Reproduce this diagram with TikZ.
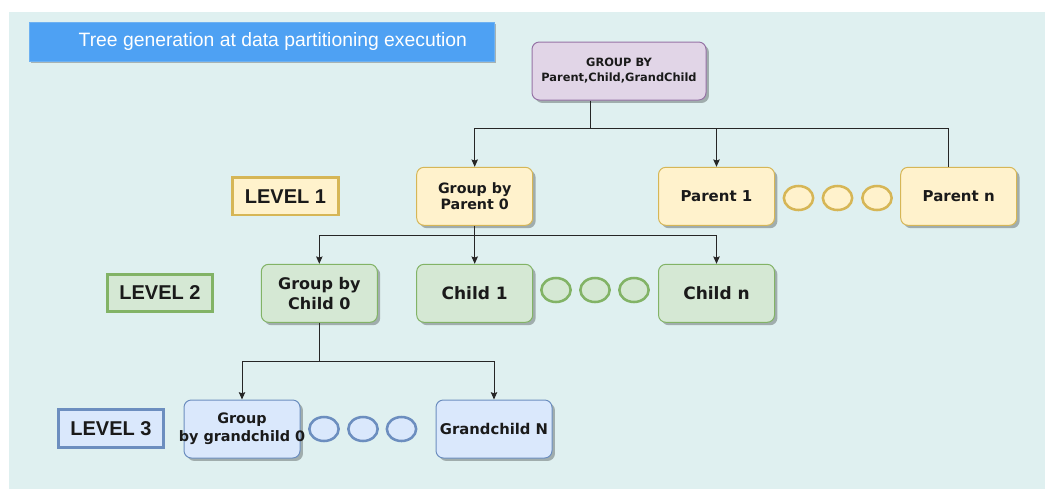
\documentclass[tikz,border=0pt]{standalone}
\usepackage{fontspec}
\setmainfont{DejaVu Sans}
\newfontfamily\arialf{Liberation Sans}
\usetikzlibrary{shadows,arrows.meta,shapes.geometric}
\definecolor{panel}{HTML}{DFF0F0}
\definecolor{titleblue}{HTML}{4EA1F3}
\definecolor{titleedge}{HTML}{6DB1F2}
\definecolor{yfill}{HTML}{FFF2CC}
\definecolor{ydraw}{HTML}{D6B656}
\definecolor{gfill}{HTML}{D5E8D4}
\definecolor{gdraw}{HTML}{82B366}
\definecolor{bfill}{HTML}{DAE8FC}
\definecolor{bdraw}{HTML}{6C8EBF}
\definecolor{pfill}{HTML}{E1D5E7}
\definecolor{pdraw}{HTML}{9673A6}
\definecolor{txt}{HTML}{1A1A1A}
\tikzset{
  shad/.style={drop shadow={shadow xshift=2.2pt,shadow yshift=-2.2pt,opacity=0.28,fill=black}},
  box/.style={rectangle,rounded corners=5.5pt,line width=0.75pt,minimum width=87pt,minimum height=43.5pt,inner sep=0pt,align=center,text=txt,shad},
  ybox/.style={box,fill=yfill,draw=ydraw},
  gbox/.style={box,fill=gfill,draw=gdraw},
  bbox/.style={box,fill=bfill,draw=bdraw},
  lvl/.style={rectangle,line width=2.2pt,minimum width=79pt,minimum height=28pt,inner sep=0pt,text=txt,font=\arialf\fontsize{15}{17}\bfseries},
  dot/.style={ellipse,line width=1.9pt,minimum width=22pt,minimum height=18pt,inner sep=0pt},
  ydot/.style={dot,fill=yfill,draw=ydraw},
  gdot/.style={dot,fill=gfill,draw=gdraw},
  bdot/.style={dot,fill=bfill,draw=bdraw},
  conn/.style={draw=black!85,line width=0.75pt},
  arr/.style={conn,-{Stealth[length=5.5pt,width=4.8pt,inset=0.8pt]}}
}
\begin{document}
\begin{tikzpicture}[x=0.75pt,y=-0.75pt]
\useasboundingbox (0,0) rectangle (1045,489);
\fill[white] (0,0) rectangle (1045,489);
\fill[panel] (9,12) rectangle (1045,489);
% title
\node[rectangle,fill=titleblue,draw=titleedge,line width=0.5pt,minimum width=348.75pt,minimum height=29.25pt,inner sep=0pt,
  text=white,font=\arialf\fontsize{14.5}{16}\selectfont,drop shadow={shadow xshift=1.5pt,shadow yshift=-1.5pt,opacity=0.25,fill=black}]
  (title) at (261.5,41.7) {\hspace*{17pt}Tree generation at data partitioning execution};
% root
\node[box,fill=pfill,draw=pdraw,minimum width=130.5pt,font=\fontsize{8.55}{11.25}\bfseries] (root) at (619,71)
  {GROUP BY\\Parent,Child,GrandChild};
% level 1
\node[lvl,fill=yfill,draw=ydraw] (L1) at (285.5,196.3) {LEVEL 1};
\node[ybox,font=\fontsize{10.7}{12.5}\bfseries] (gp0) at (474.7,196.3) {Group by\\Parent 0};
\node[ybox,font=\fontsize{11.25}{13}\bfseries] (p1) at (716.5,196.3) {Parent 1};
\node[ydot] (yd1) at (798.5,198) {};
\node[ydot] (yd2) at (837.5,198) {};
\node[ydot] (yd3) at (877,198) {};
\node[ybox,font=\fontsize{11.25}{13}\bfseries] (pn) at (958.7,196.3) {Parent n};
% level 2
\node[lvl,fill=gfill,draw=gdraw] (L2) at (160,293) {LEVEL 2};
\node[gbox,font=\fontsize{12}{15}\bfseries] (gc0) at (319.3,293.3) {Group by\\Child 0};
\node[gbox,font=\fontsize{12.75}{15}\bfseries] (c1) at (474.7,293.3) {Child 1};
\node[gdot] (gd1) at (556,290) {};
\node[gdot] (gd2) at (595,290) {};
\node[gdot] (gd3) at (634,290) {};
\node[gbox,font=\fontsize{12.75}{15}\bfseries] (cn) at (716.5,293.3) {Child n};
% level 3
\node[lvl,fill=bfill,draw=bdraw] (L3) at (111,428.5) {LEVEL 3};
\node[bbox,font=\fontsize{10.8}{13.25}\bfseries] (gg0) at (242,429) {Group\\\makebox[0pt]{by grandchild 0}};
\node[bdot] (bd1) at (324,429) {};
\node[bdot] (bd2) at (363,429) {};
\node[bdot] (bd3) at (401.5,429) {};
\node[bbox,font=\fontsize{11.1}{13}\bfseries] (gN) at (494,429) {Grandchild N};
% connectors
\coordinate (j1) at (590,128.3);
\coordinate (k1) at (948.3,128.3);
\draw[conn] (root.south -| j1) -- (j1);
\draw[arr] (j1) -| (gp0.north);
\draw[arr] (j1) -| (p1.north);
\draw[conn] (j1) -- (k1) -- (k1 |- pn.north);
\coordinate (j2) at (474.7,235);
\draw[conn] (gp0.south) -- (j2);
\draw[arr] (j2) -| (gc0.north);
\draw[arr] (j2) -- (c1.north);
\draw[arr] (j2) -| (cn.north);
\coordinate (j3) at (319.3,361);
\draw[conn] (gc0.south) -- (j3);
\draw[arr] (j3) -| (gg0.north);
\draw[arr] (j3) -| (gN.north);
\end{tikzpicture}
\end{document}
